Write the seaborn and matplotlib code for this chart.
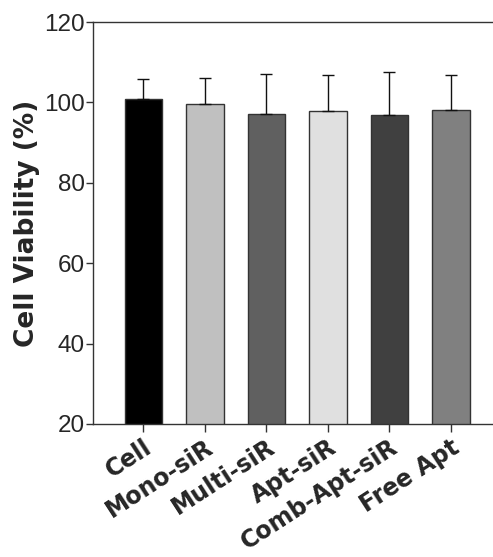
import matplotlib
matplotlib.use("Agg")
import matplotlib.pyplot as plt
import numpy as np
import seaborn as sns

groups = ["Cell", "Mono-siR", "Multi-siR", "Apt-siR", "Comb-Apt-siR", "Free Apt"]
viability = [100.8, 99.5, 97.2, 97.9, 96.9, 98.2]
sd = [5.0, 6.6, 9.9, 8.9, 10.6, 8.5]
bar_colors = ["#000000", "#c0c0c0", "#606060", "#e0e0e0", "#404040", "#808080"]
yticks = [20, 40, 60, 80, 100, 120]

sns.set_style("ticks")
plt.rcParams["font.family"] = ["DejaVu Sans"]

fig = plt.figure(figsize=(4.93, 5.57), dpi=100)
ax = fig.add_axes([0.1886, 0.2388, 0.828, 0.7217])

sns.barplot(x=groups, y=viability, hue=groups, palette=bar_colors, legend=False,
            width=0.61, edgecolor="#333333", linewidth=1.0, errorbar=None, ax=ax)
ax.errorbar(np.arange(len(groups)), viability, yerr=[np.zeros(len(sd)), sd],
            fmt="none", ecolor="#111111", elinewidth=1.0, capsize=4, capthick=1.0)

ax.set_ylim(20, 120)
ax.set_xlim(-0.82, len(groups) - 1 + 0.82)
ax.set_yticks(yticks)
ax.set_yticklabels([str(t) for t in yticks], fontfamily="Liberation Sans", fontsize=17.5)
ax.set_xticks(np.arange(len(groups)))
ax.set_xticklabels(groups, rotation=33, ha="right", rotation_mode="anchor",
                   fontweight="bold", fontsize=17)
ax.tick_params(axis="x", length=6, width=1, color="#333333", pad=2)
ax.tick_params(axis="y", length=5, width=1, color="#333333", pad=1)
ax.set_xlabel("")
ax.set_ylabel("Cell Viability (%)", fontweight="bold", fontsize=19, labelpad=3)
for s in ax.spines.values():
    s.set_color("#333333")
    s.set_linewidth(1.0)

fig.savefig("out.png", dpi=100)
